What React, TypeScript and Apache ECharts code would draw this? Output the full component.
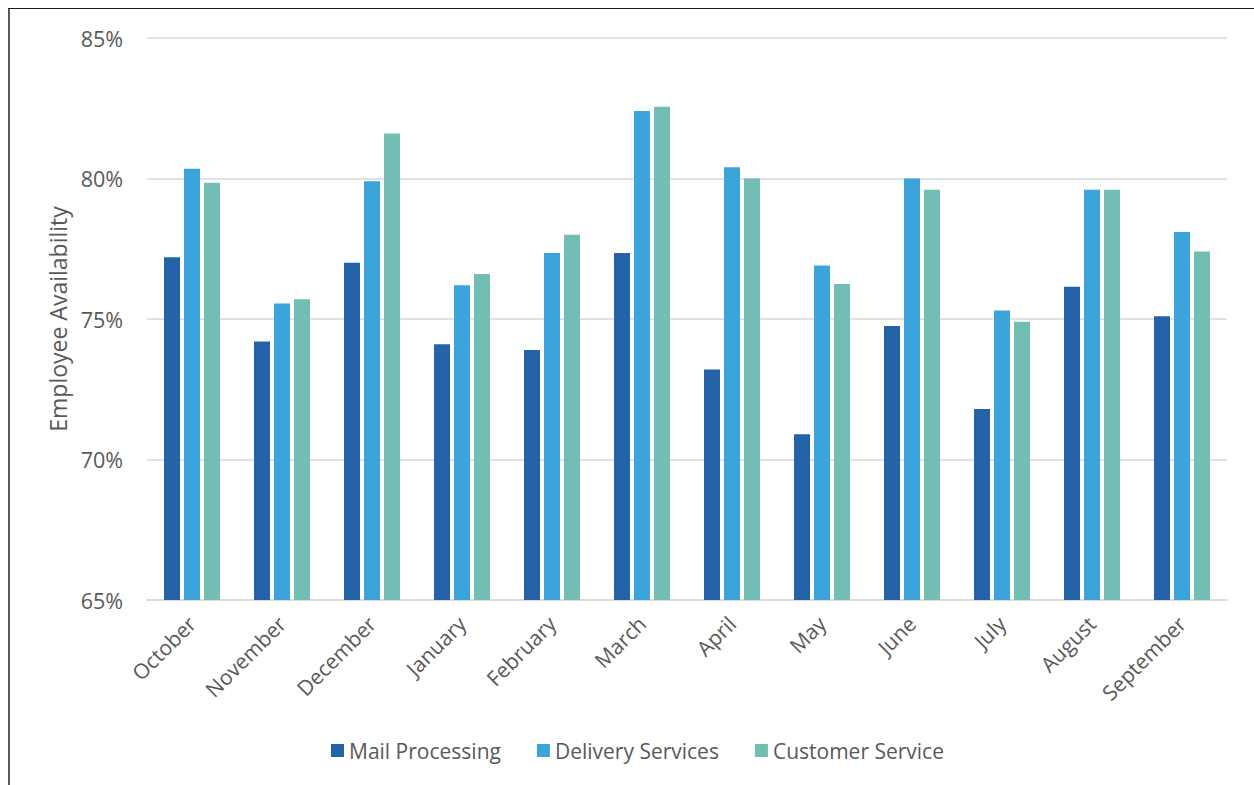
import React, { useEffect, useRef } from "react";
import * as echarts from "echarts";

const months = ["October", "November", "December", "January", "February", "March", "April", "May", "June", "July", "August", "September"];
const mailProcessing = [77.2, 74.2, 77.0, 74.1, 73.9, 77.35, 73.2, 70.9, 74.75, 71.8, 76.15, 75.1];
const deliveryServices = [80.35, 75.55, 79.9, 76.2, 77.35, 82.4, 80.4, 76.9, 80.0, 75.3, 79.6, 78.1];
const customerService = [79.85, 75.7, 81.6, 76.6, 78.0, 82.55, 80.0, 76.25, 79.6, 74.9, 79.6, 77.4];
const seriesNames = ["Mail Processing", "Delivery Services", "Customer Service"];
const colors = ["#2563A9", "#3CA3DB", "#72BEB5"];

const FONT = "'Open Sans', sans-serif";
const TEXT = "#595959";

export default function App() {
  const ref = useRef<HTMLDivElement>(null);
  useEffect(() => {
    if (!ref.current) return;
    const chart = echarts.init(ref.current, null, { renderer: "svg" });
    const mk = (name: string, data: number[], color: string) => ({
      name,
      type: "bar",
      data,
      barWidth: 16,
      barGap: "25%",
      itemStyle: { color },
    });
    chart.setOption({
      animation: false,
      textStyle: { fontFamily: FONT },
      grid: { left: 147, right: 27, top: 38, bottom: 185, containLabel: false },
      legend: {
        data: seriesNames,
        left: 326,
        top: 735,
        icon: "rect",
        itemWidth: 13,
        itemHeight: 13,
        itemGap: 36,
        textStyle: { fontFamily: FONT, fontSize: 21, color: TEXT },
      },
      xAxis: {
        type: "category",
        data: months,
        axisLine: { show: true, lineStyle: { color: "#D9D9D9", width: 1.5 } },
        axisTick: { show: false },
        axisLabel: { rotate: 45, margin: 20, fontFamily: FONT, fontSize: 21, color: TEXT, interval: 0 },
      },
      yAxis: {
        type: "value",
        min: 65,
        max: 85,
        interval: 5,
        name: "Employee Availability",
        nameLocation: "middle",
        nameGap: 72,
        nameTextStyle: { fontFamily: FONT, fontSize: 23, color: TEXT },
        axisLine: { show: false },
        axisTick: { show: false },
        axisLabel: { formatter: "{value}%", margin: 24, fontFamily: FONT, fontSize: 21.5, color: TEXT },
        splitLine: { lineStyle: { color: "#D9D9D9", width: 1.5 } },
      },
      graphic: [
        { type: "line", shape: { x1: 9, y1: 8, x2: 9, y2: 785 }, style: { stroke: "#595959", lineWidth: 2 } },
        { type: "line", shape: { x1: 8, y1: 8.5, x2: 1254, y2: 8.5 }, style: { stroke: "#1A1A1A", lineWidth: 1 } },
      ],
      series: [
        mk(seriesNames[0], mailProcessing, colors[0]),
        mk(seriesNames[1], deliveryServices, colors[1]),
        mk(seriesNames[2], customerService, colors[2]),
      ],
    });
    return () => chart.dispose();
  }, []);
  return (
    <div style={{ position: "fixed", left: 0, top: 0, width: 1254, height: 785, background: "#fff" }}>
      <div ref={ref} style={{ width: 1254, height: 785 }} />
    </div>
  );
}
